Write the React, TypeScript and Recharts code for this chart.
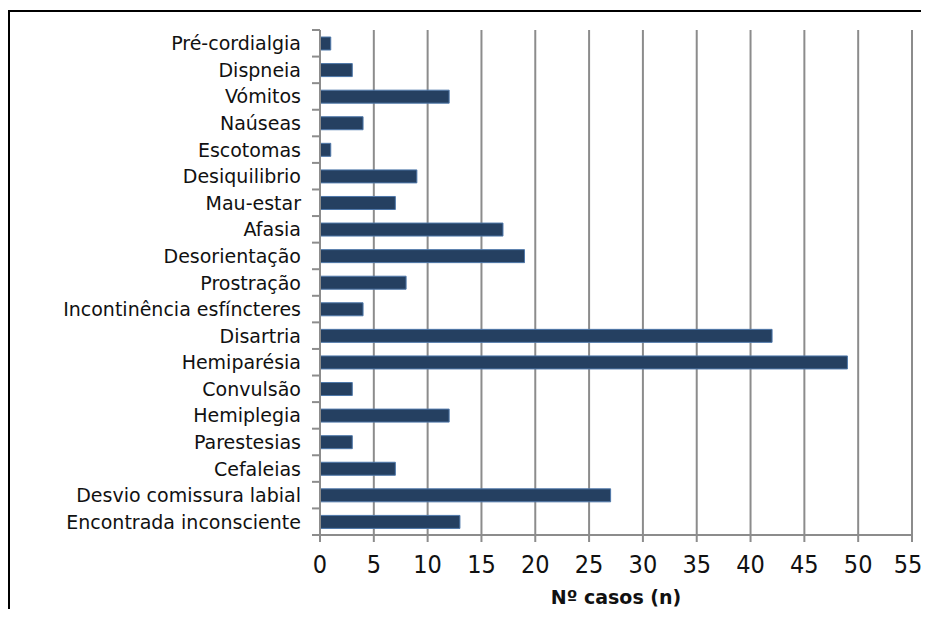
import React from "react";
import {
  BarChart,
  Bar,
  XAxis,
  YAxis,
  CartesianGrid,
  Label,
} from "recharts";

const symptoms = [
  "Pré-cordialgia",
  "Dispneia",
  "Vómitos",
  "Naúseas",
  "Escotomas",
  "Desiquilibrio",
  "Mau-estar",
  "Afasia",
  "Desorientação",
  "Prostração",
  "Incontinência esfíncteres",
  "Disartria",
  "Hemiparésia",
  "Convulsão",
  "Hemiplegia",
  "Parestesias",
  "Cefaleias",
  "Desvio comissura labial",
  "Encontrada inconsciente",
];

const cases = [1, 3, 12, 4, 1, 9, 7, 17, 19, 8, 4, 42, 49, 3, 12, 3, 7, 27, 13];

const xTicks = [0, 5, 10, 15, 20, 25, 30, 35, 40, 45, 50, 55];

const data = symptoms.map((name, i) => ({ name, n: cases[i] }));

// body keeps its 8px margin, so the chart is 913 x 601
const W = 913;
const H = 601;
const PLOT_TOP = 22;
const PLOT_BOTTOM = 527;
const BAND = (PLOT_BOTTOM - PLOT_TOP) / symptoms.length;
const GRID = "#8c8c8c";

const CategoryTick = (props: any) => {
  const { x, y, payload, index } = props;
  const last = index === symptoms.length - 1;
  return (
    <g>
      <line x1={x} x2={x + 8} y1={y - BAND / 2} y2={y - BAND / 2} stroke={GRID} strokeWidth={2} />
      {last && (
        <line x1={x} x2={x + 8} y1={y + BAND / 2} y2={y + BAND / 2} stroke={GRID} strokeWidth={2} />
      )}
      <text
        x={x - 11}
        y={y}
        textAnchor="end"
        dominantBaseline="central"
        fill="#111"
        fontSize={19}
        fontFamily="DejaVu Sans"
      >
        {payload.value}
      </text>
    </g>
  );
};

const ValueTick = (props: any) => {
  const { x, y, payload, index } = props;
  // keep the last label inside the frame
  const dx = index === xTicks.length - 1 ? -4 : 0;
  return (
    <text
      x={x + dx}
      y={y + 18}
      textAnchor="middle"
      fill="#111"
      fontSize={25}
      fontFamily="Liberation Sans Narrow, DejaVu Sans Condensed"
    >
      {payload.value}
    </text>
  );
};

export default function App() {
  return (
    <div style={{ width: W, height: H, position: "relative", background: "#fff" }}>
      {/* chart frame, open on the right and bottom */}
      <div
        style={{
          position: "absolute",
          left: 0,
          top: 2,
          width: W,
          height: H - 2,
          boxSizing: "border-box",
          borderTop: "2px solid #000",
          borderLeft: "2px solid #000",
        }}
      />
      <div style={{ position: "absolute", left: 0, top: 0 }}>
        <BarChart
          width={W}
          height={H}
          data={data}
          layout="vertical"
          margin={{ top: PLOT_TOP, right: 9, left: 0, bottom: 0 }}
          barCategoryGap={0}
        >
          <CartesianGrid horizontal={false} stroke={GRID} strokeWidth={2} />
          <XAxis
            type="number"
            domain={[0, 55]}
            ticks={xTicks}
            interval={0}
            height={H - PLOT_BOTTOM}
            stroke={GRID}
            strokeWidth={2}
            tickSize={7}
            tickMargin={13}
            tick={<ValueTick />}
          >
            <Label
              value="Nº casos (n)"
              position="insideBottom"
              offset={5}
              fill="#111"
              fontSize={19}
              fontWeight="bold"
              fontFamily="DejaVu Sans"
            />
          </XAxis>
          <YAxis
            type="category"
            dataKey="name"
            width={312}
            interval={0}
            stroke={GRID}
            strokeWidth={2}
            tickLine={false}
            tickSize={8}
            tickMargin={0}
            tick={<CategoryTick />}
          />
          <Bar
            dataKey="n"
            barSize={13}
            fill="#254061"
            stroke="#4f78aa"
            strokeWidth={1}
            isAnimationActive={false}
          />
        </BarChart>
      </div>
    </div>
  );
}
